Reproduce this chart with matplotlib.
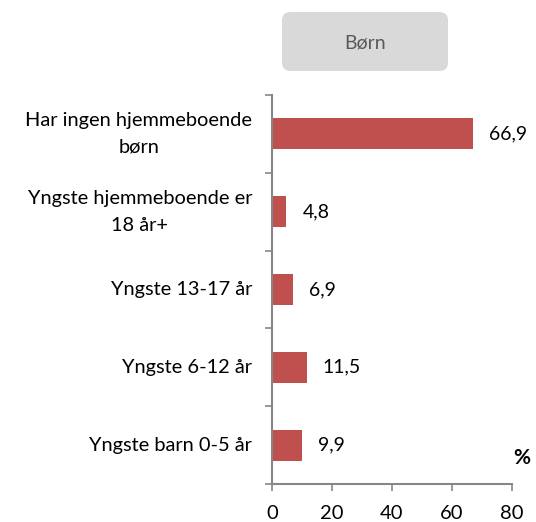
import matplotlib
matplotlib.use("Agg")
import matplotlib.pyplot as plt
from matplotlib.patches import FancyBboxPatch

categories = ["Har ingen hjemmeboende\nbørn", "Yngste hjemmeboende er\n18 år+",
              "Yngste 13-17 år", "Yngste 6-12 år", "Yngste barn 0-5 år"]
values = [66.9, 4.8, 6.9, 11.5, 9.9]
value_labels = ["66,9", "4,8", "6,9", "11,5", "9,9"]
xticks = [0, 20, 40, 60, 80]
title = "Børn"
unit = "%"

plt.rcParams['font.family'] = ['Lato', 'DejaVu Sans']

W, H = 536, 522
fig = plt.figure(figsize=(W / 100, H / 100), dpi=100)
ax = fig.add_axes([272 / W, 1 - 484 / H, 240 / W, 389 / H])

n = len(categories)
ypos = list(range(n))
ax.barh(ypos, values, height=0.4, color="#C0504D", zorder=2)
ax.set_ylim(n - 0.5, -0.5)
ax.set_xlim(0, 80)

for y, v, lab in zip(ypos, values, value_labels):
    ax.annotate(lab, xy=(v, y), xytext=(16, 0), textcoords="offset pixels",
                ha="left", va="center", fontsize=14, color="black")

ax.set_xticks(xticks)
ax.set_xticklabels([str(t) for t in xticks], fontsize=14.5)
ax.set_yticks([i - 0.5 for i in range(n + 1)], minor=False)
ax.set_yticklabels([])
ax.tick_params(axis="y", which="major", direction="out", length=5, color="#868686", width=1.2)
ax.tick_params(axis="x", direction="out", length=5, color="#868686", width=1.2, pad=10)

for i, c in enumerate(categories):
    ax.text(-0.083, i, c, transform=ax.get_yaxis_transform(), ha="right", va="center",
            multialignment="center", fontsize=14.4, linespacing=1.7)

for s in ["top", "right"]:
    ax.spines[s].set_visible(False)
for s in ["left", "bottom"]:
    ax.spines[s].set_color("#868686")
    ax.spines[s].set_linewidth(1.5)

# title box
bx0, bx1, by0, by1 = 282, 448, 12, 71
box = FancyBboxPatch((bx0 / W, 1 - by1 / H), (bx1 - bx0) / W, (by1 - by0) / H,
                     boxstyle="round,pad=0,rounding_size=0.016", transform=fig.transFigure,
                     facecolor="#D9D9D9", edgecolor="none")
fig.patches.append(box)
fig.text((bx0 + bx1) / 2 / W, 1 - 43 / H, title, ha="center", va="center",
         fontsize=14, color="#595959")

fig.text(522 / W, 1 - 458 / H, unit, ha="center", va="center", fontsize=15,
         fontweight="bold")

fig.savefig("out.png", dpi=100)
